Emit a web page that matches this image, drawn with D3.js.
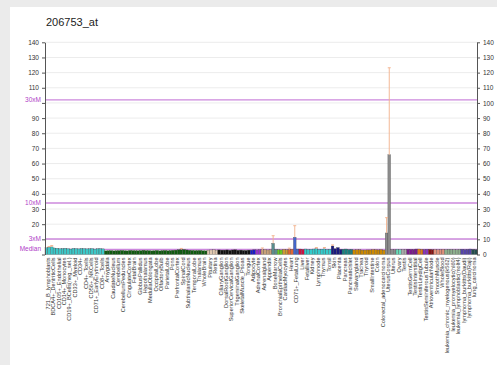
<!DOCTYPE html>
<html>
<head>
<meta charset="utf-8">
<script src="https://cdn.jsdelivr.net/npm/d3@7"></script>
<style>
  body { margin: 0; background: #ebebeb; }
  svg { display: block; font-family: Arial, "Liberation Sans", sans-serif; }
</style>
</head>
<body>
<div id="chart"></div>
<script>
// probe title
const title = '206753_at';

// tissues, two replicate bars each
const tissues = [
  '721_B_lymphoblasts', 'BDCA4+_DentriticCells', 'CD105+_Endothelial', 'CD14+_Monocytes',
  'CD19+_BCells(neg._sel.)', 'CD33+_Myeloid', 'CD34+', 'CD4+_Tcells', 'CD56+_NKCells',
  'CD71+_EarlyErythroid', 'CD8+_Tcells',
  'Amygdala', 'CaudateNucleus', 'Cerebellum', 'CerebellumPeduncles', 'CingulateCortex',
  'FetalBrain', 'GlobusPallidus', 'Hypothalamus', 'MedullaOblongata', 'OccipitalLobe',
  'OlfactoryBulb', 'ParietalLobe', 'Pons', 'PrefrontalCortex', 'SpinalCord',
  'SubthalamicNucleus', 'TemporalLobe', 'Thalamus', 'WholeBrain',
  'Pituitary', 'Retina',
  'CiliaryGanglion', 'DorsalRootGanglion', 'SuperiorCervicalGanglion', 'TrigeminalGanglion',
  'SkeletalMuscle_Psoas', 'Tongue',
  'Adipocyte', 'AdrenalCortex', 'Adrenalgland', 'Appendix', 'BoneMarrow',
  'BronchialEpithelialCells', 'CardiacMyocytes', 'Heart', 'CD71+_FetalLung', 'Liver',
  'Fetalliver', 'Kidney', 'Lymphnode', 'Thymus', 'Tonsil',
  'Skin', 'Placenta', 'Pancreas', 'PancreaticIslet',
  'Salivarygland', 'Trachea', 'Thyroid', 'SmallIntestine', 'Colon', 'Colorectal_adenocarcinoma',
  'UterusCorpus', 'Uterus', 'Ovary', 'Testis',
  'TestisGermCell', 'TestisInterstitial', 'TestisLeydigCell', 'TestisSeminiferousTubule',
  'AtrioventricularNode', 'SmoothMuscle', 'WholeBlood',
  'leukemia_chronic_myelogenous(k562)', 'leukemia_promyelocytic(hl60)', 'leukemia_lymphoblastic(molt4)',
  'lymphoma_burkitts(Daudi)', 'lymphoma_burkitts(Raji)', 'lung_carcinoma'
];

const repA = [
  4.4, 5.0, 4.1, 3.9, 3.8, 4.0, 3.7, 3.9, 3.8, 3.6, 3.9,
  2.4, 2.6, 2.5, 2.7, 2.4, 2.6, 2.5, 2.8, 2.6, 2.5, 2.4, 2.7, 2.6, 2.9, 3.2, 3.0, 2.7, 2.6, 2.5,
  2.9, 3.1,
  3.0, 2.9, 2.8, 3.1, 2.9, 2.7,
  2.9, 3.0, 3.1, 3.0, 7.4, 3.2, 3.4, 3.3, 11.4, 3.6,
  3.6, 3.4, 3.8, 3.5, 3.3,
  5.6, 4.6, 3.5, 3.3,
  3.0, 3.1, 2.9, 3.0, 3.1, 3.2,
  14.2, 3.3, 3.4, 3.3,
  3.5, 3.3, 3.6, 3.3, 3.4, 3.3, 3.2,
  3.2, 3.3, 3.1, 3.5, 3.4, 3.4
];
const repB = [
  4.8, 4.3, 3.8, 4.1, 3.6, 3.9, 4.0, 3.7, 3.9, 3.8, 3.7,
  2.5, 2.4, 2.6, 2.5, 2.7, 2.5, 2.6, 2.6, 2.4, 2.7, 2.6, 2.5, 2.8, 3.1, 3.3, 2.8, 2.6, 2.7, 2.4,
  3.0, 2.8,
  2.9, 3.0, 3.0, 2.8, 2.7, 2.9,
  3.1, 3.2, 3.3, 3.2, 3.4, 3.0, 3.1, 3.5, 3.6, 3.4,
  3.3, 3.6, 3.4, 3.7, 3.5,
  3.8, 3.4, 3.6, 3.4,
  3.1, 2.9, 3.0, 3.2, 3.0, 2.9,
  65.8, 3.1, 3.2, 3.1,
  3.4, 3.6, 3.4, 3.5, 3.2, 3.1, 3.4,
  3.4, 3.2, 3.3, 3.3, 3.6, 3.2
];
// upper error (sd) per replicate
const errA = [
  0, 0.9, 0, 0, 0, 0, 0, 0, 0, 0, 0,
  0, 0, 0, 0, 0, 0, 0, 0, 0, 0, 0, 0, 0, 0, 0.8, 0, 0, 0, 0,
  0, 0,
  0, 0, 0, 0, 0, 0,
  0, 0, 1.2, 0, 5.0, 0, 0, 0.9, 7.6, 0,
  0, 0, 0.8, 0, 0,
  0.7, 0, 0, 0,
  0, 0, 0, 0, 0, 0,
  10.1, 0, 0, 0,
  0, 0, 0, 0, 0, 0, 0,
  0, 0, 0, 0, 0, 0
];
const errB = [
  0.5, 0, 0, 0, 0, 0, 0, 0, 0, 0, 0,
  0, 0, 0, 0, 0, 0, 0, 0, 0, 0, 0, 0, 0, 0, 0, 0, 0, 0, 0,
  0, 0,
  0, 0, 0, 0, 0, 0,
  0, 0, 0, 0, 0, 0, 0, 0, 0, 0,
  0, 0, 0, 0.9, 0,
  0, 0, 0, 0,
  0, 0, 0, 0, 0, 0,
  57.4, 0, 0, 0,
  0, 0, 0, 0, 0, 0, 0,
  0, 0, 0, 0, 0, 0
];

// tissue groups (how many tissues per colour)
const groupSizes = [11, 19, 2, 6, 1, 1, 2, 1, 1, 1, 1, 1, 1, 5, 2, 2, 6, 2, 1, 1, 2, 1, 1, 1, 2, 3, 2, 1];
const groupColors = ['#3cc8c8', '#0f5c0f', '#e0c8b0', '#111111', '#1a1acc', '#9933cc', '#c8a078',
  '#5a8c8c', '#66cc22', '#cc9933', '#e06633', '#4466cc', '#cc1144', '#33cccc', '#1a1a80',
  '#1a8080', '#cc8800', '#8c8c8c', '#66ddbb', '#aaaaaa', '#7a1a8c', '#e07a1a', '#8833bb',
  '#8c1111', '#e0907a', '#8cb08c', '#5544aa', '#224d4d'];

const median = 3.4;
const refLines = [
  { label: 'Median', mult: 1 },
  { label: '3xM', mult: 3 },
  { label: '10xM', mult: 10 },
  { label: '30xM', mult: 30 }
];
const yTicks = d3.range(0, 141, 10);

const W = 497, H = 365;
const margin = { top: 42.3, left: 45, right: 20, bottom: 110.5 };
const plotW = W - margin.left - margin.right;
const plotH = H - margin.top - margin.bottom;

const svg = d3.select('#chart').append('svg')
  .attr('width', W)
  .attr('height', H);

// grey surround, white panel
svg.append('rect').attr('width', W).attr('height', H).attr('fill', '#ebebeb');
svg.append('rect').attr('x', 10).attr('y', 7).attr('width', W - 10).attr('height', H - 7).attr('fill', '#fff');

svg.append('text')
  .attr('x', 46).attr('y', 25.5)
  .attr('font-size', 11)
  .attr('fill', '#222')
  .text(title);

// per bar records
const tissueColor = [];
groupSizes.forEach((n, g) => { for (let i = 0; i < n; i++) tissueColor.push(groupColors[g]); });
const bars = [];
tissues.forEach((t, i) => {
  bars.push({ id: i * 2, tissue: t, v: repA[i], err: errA[i], color: tissueColor[i] });
  bars.push({ id: i * 2 + 1, tissue: t, v: repB[i], err: errB[i], color: tissueColor[i] });
});

const x = d3.scaleBand().domain(bars.map(d => d.id)).range([0, plotW]).padding(0);
const xT = d3.scaleBand().domain(tissues).range([0, plotW]).padding(0);
const y = d3.scaleLinear().domain([0, 140]).range([plotH, 0]);

const chart = svg.append('g')
  .attr('transform', `translate(${margin.left}, ${margin.top})`);

// gridlines
chart.append('g')
  .selectAll('line')
  .data(yTicks.filter(d => d > 0))
  .enter().append('line')
  .attr('x1', 0).attr('x2', plotW)
  .attr('y1', d => y(d)).attr('y2', d => y(d))
  .attr('stroke', '#ececec').attr('stroke-width', 1);

// reference lines
chart.append('g')
  .selectAll('line')
  .data(refLines)
  .enter().append('line')
  .attr('x1', 0).attr('x2', plotW)
  .attr('y1', d => y(d.mult * median)).attr('y2', d => y(d.mult * median))
  .attr('stroke', '#cc88dd').attr('stroke-width', 1.4);

// bars
chart.append('g')
  .selectAll('rect')
  .data(bars)
  .enter().append('rect')
  .attr('x', d => x(d.id))
  .attr('y', d => y(d.v))
  .attr('width', x.bandwidth())
  .attr('height', d => plotH - y(d.v))
  .attr('fill', d => d.color)
  .attr('stroke', '#444')
  .attr('stroke-width', 0.3);

// error bars
const eb = chart.append('g').selectAll('g')
  .data(bars.filter(d => d.err > 0))
  .enter().append('g')
  .attr('stroke', '#f2b08a').attr('stroke-width', 0.9);
eb.append('line')
  .attr('x1', d => x(d.id) + x.bandwidth() / 2).attr('x2', d => x(d.id) + x.bandwidth() / 2)
  .attr('y1', d => y(d.v)).attr('y2', d => y(d.v + d.err));
eb.append('line')
  .attr('x1', d => x(d.id) + x.bandwidth() / 2 - 1.5).attr('x2', d => x(d.id) + x.bandwidth() / 2 + 1.5)
  .attr('y1', d => y(d.v + d.err)).attr('y2', d => y(d.v + d.err));

// left axis: hide labels that collide with reference labels
const refVals = refLines.map(r => r.mult * median);
const leftAxis = chart.append('g')
  .call(d3.axisLeft(y).tickValues(yTicks).tickSize(3).tickSizeOuter(0));
leftAxis.selectAll('text')
  .attr('font-size', 6.5).attr('fill', '#333')
  .style('display', d => refVals.some(v => Math.abs(v - d) < 4) ? 'none' : null);
leftAxis.select('.domain').attr('stroke', '#555');
leftAxis.selectAll('.tick line').attr('stroke', '#555');

chart.append('g')
  .selectAll('text')
  .data(refLines)
  .enter().append('text')
  .attr('x', -4).attr('y', d => y(d.mult * median)).attr('dy', '0.32em')
  .attr('text-anchor', 'end')
  .attr('font-size', 6.5)
  .attr('fill', '#b040c8')
  .text(d => d.label);

const rightAxis = chart.append('g')
  .attr('transform', `translate(${plotW}, 0)`)
  .call(d3.axisRight(y).tickValues(yTicks).tickSize(3).tickSizeOuter(0));
rightAxis.selectAll('text').attr('font-size', 6.5).attr('fill', '#333');
rightAxis.select('.domain').attr('stroke', '#555');
rightAxis.selectAll('.tick line').attr('stroke', '#555');

// tissue labels, vertical
chart.append('g')
  .selectAll('text')
  .data(tissues)
  .enter().append('text')
  .attr('transform', d => `translate(${xT(d) + xT.bandwidth() / 2 + 2}, ${plotH + 3}) rotate(-90)`)
  .attr('text-anchor', 'end')
  .attr('font-size', 5.6)
  .attr('fill', '#333')
  .text(d => d);
</script>
</body>
</html>
